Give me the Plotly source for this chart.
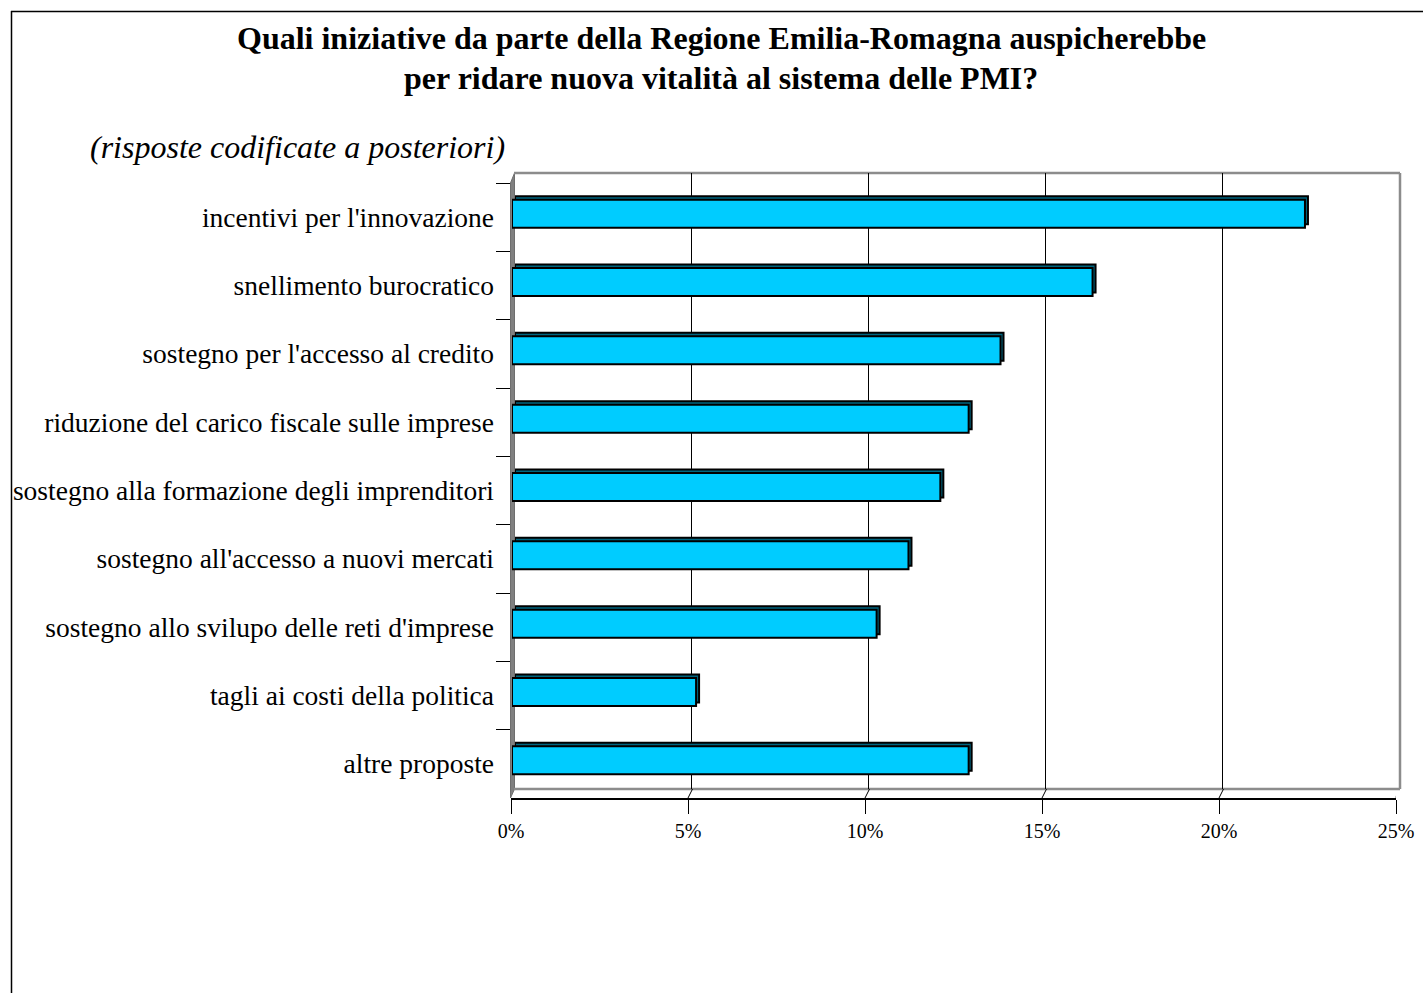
import plotly.graph_objects as go

# Survey answers (percent of respondents), top to bottom
categories = [
    "incentivi per l'innovazione",
    "snellimento burocratico",
    "sostegno per l'accesso al credito",
    "riduzione del carico fiscale sulle imprese",
    "sostegno alla formazione degli imprenditori",
    "sostegno all'accesso a nuovi mercati",
    "sostegno allo svilupo delle reti d'imprese",
    "tagli ai costi della politica",
    "altre proposte",
]
values = [22.4, 16.4, 13.8, 12.9, 12.1, 11.2, 10.3, 5.2, 12.9]

x_ticks = [0, 5, 10, 15, 20, 25]
x_tick_text = ["0%", "5%", "10%", "15%", "20%", "25%"]

title_lines = [
    "Quali iniziative da parte della Regione Emilia-Romagna auspicherebbe",
    "per ridare nuova vitalità al sistema delle PMI?",
]
subtitle = "(risposte codificate a posteriori)"

W, H = 1423, 993
FONT = "Liberation Serif"
CYAN = "#00CCFF"
CYAN_DARK = "#006680"
WALL = "#8c8c8c"


def px(x):
    return x / W


def py(y):
    return 1 - y / H


def xdom(a, b):
    return [px(a), px(b)]


def ydom(top, bottom):
    return [py(bottom), py(top)]


cat_range = [len(categories) - 0.5, -0.5]

fig = go.Figure()

# depth face of the bars (drawn slightly behind and above the front face)
fig.add_trace(go.Bar(
    x=values, y=categories, orientation="h", xaxis="x2", yaxis="y2",
    width=0.41, marker=dict(color=CYAN_DARK, line=dict(color="black", width=2)),
    hoverinfo="skip", showlegend=False,
))
# front face of the bars
fig.add_trace(go.Bar(
    x=values, y=categories, orientation="h", xaxis="x3", yaxis="y3",
    width=0.41, marker=dict(color=CYAN, line=dict(color="black", width=2)),
    showlegend=False,
))

hidden = dict(visible=False, automargin=False)

fig.update_layout(
    width=W, height=H, autosize=False,
    margin=dict(l=0, r=0, t=0, b=0, autoexpand=False),
    paper_bgcolor="white", plot_bgcolor="rgba(0,0,0,0)",
    font=dict(family=FONT, color="black"),
    barmode="overlay",
    # back wall with gridlines
    xaxis=dict(domain=xdom(514, 1399.5), range=[0, 25], anchor="y",
               tickvals=[5, 10, 15, 20], showticklabels=False, ticks="",
               showgrid=True, gridcolor="black", gridwidth=1, automargin=False,
               zeroline=False, showline=False, fixedrange=True),
    yaxis=dict(domain=ydom(173, 789), anchor="x", type="category",
               categoryarray=categories, range=cat_range, automargin=False,
               showgrid=False, showticklabels=False, ticks="",
               zeroline=False, showline=False, fixedrange=True),
    # bar depth faces
    xaxis2=dict(domain=xdom(515, 1400), range=[0, 25], anchor="y2", **hidden),
    yaxis2=dict(domain=ydom(176, 791), anchor="x2", type="category",
                categoryarray=categories, range=cat_range, **hidden),
    # bar front faces
    xaxis3=dict(domain=xdom(512, 1397), range=[0, 25], anchor="y3", **hidden),
    yaxis3=dict(domain=ydom(179.5, 794.5), anchor="x3", type="category",
                categoryarray=categories, range=cat_range, **hidden),
    # front axes carrying ticks and labels
    xaxis4=dict(domain=xdom(511, 1396), range=[0, 25], anchor="y4",
                tickvals=x_ticks, ticktext=x_tick_text, automargin=False,
                ticks="outside", ticklen=14, tickwidth=1, tickcolor="black",
                showline=True, linecolor="black", linewidth=2,
                showgrid=False, zeroline=False, fixedrange=True,
                tickfont=dict(family=FONT, size=20, color="black")),
    yaxis4=dict(domain=ydom(183, 798), anchor="x4", type="category",
                categoryarray=categories, range=cat_range, automargin=False,
                tickson="boundaries", ticks="outside", ticklen=14,
                tickwidth=1, tickcolor="black", ticklabelstandoff=16,
                showline=False, showgrid=False, zeroline=False, fixedrange=True,
                tickfont=dict(family=FONT, size=27.5, color="black")),
)

# empty traces so the outer axis pairs are rendered
fig.add_trace(go.Scatter(x=[None], y=[None], xaxis="x", yaxis="y",
                         showlegend=False, hoverinfo="skip"))
fig.add_trace(go.Scatter(x=[None], y=[None], xaxis="x4", yaxis="y4",
                         showlegend=False, hoverinfo="skip"))

shapes = []
# outer chart frame (top and left edges)
shapes.append(dict(type="line", xref="paper", yref="paper",
                   x0=px(11), y0=py(11.5), x1=px(W + 5), y1=py(11.5),
                   line=dict(color="black", width=1.5)))
shapes.append(dict(type="line", xref="paper", yref="paper",
                   x0=px(11.5), y0=py(11), x1=px(11.5), y1=py(H + 5),
                   line=dict(color="black", width=1.5)))
# left side wall
shapes.append(dict(type="path", xref="paper", yref="paper", layer="below",
                   path=f"M {px(510.5)},{py(183)} L {px(514.5)},{py(173)} "
                        f"L {px(514.5)},{py(789)} L {px(510.5)},{py(798)} Z",
                   fillcolor="#808080", line=dict(color="#6e6e6e", width=1)))
# back wall border and back edge of the floor
for (xa, ya, xb, yb) in [(514, 173, 1400, 173), (1400, 173, 1400, 789),
                         (514, 789, 1400, 789)]:
    shapes.append(dict(type="line", xref="paper", yref="paper", layer="below",
                       x0=px(xa), y0=py(ya), x1=px(xb), y1=py(yb),
                       line=dict(color=WALL, width=2.5)))
# floor edges joining the front ticks to the back gridlines
for v in x_ticks[1:]:
    last = v == x_ticks[-1]
    shapes.append(dict(type="line", xref="x4", yref="paper", layer="below",
                       xsizemode="pixel", xanchor=v, x0=0, x1=4 if last else 4.5,
                       y0=py(798), y1=py(789),
                       line=dict(color=WALL if last else "black",
                                 width=2 if last else 1)))
fig.update_layout(shapes=shapes)

annotations = [
    dict(text=f"<b>{title_lines[0]}</b>", x=px(721), y=py(38)),
    dict(text=f"<b>{title_lines[1]}</b>", x=px(721), y=py(78)),
]
for a in annotations:
    a.update(xref="paper", yref="paper", xanchor="center", yanchor="middle",
             showarrow=False, font=dict(family=FONT, size=32, color="black"))
annotations.append(dict(text=f"<i>{subtitle}</i>", x=px(88), y=py(147),
                        xref="paper", yref="paper", xanchor="left",
                        yanchor="middle", showarrow=False,
                        font=dict(family=FONT, size=32, color="black")))
fig.update_layout(annotations=annotations)

fig.write_html("out.html", config={"displayModeBar": False})
